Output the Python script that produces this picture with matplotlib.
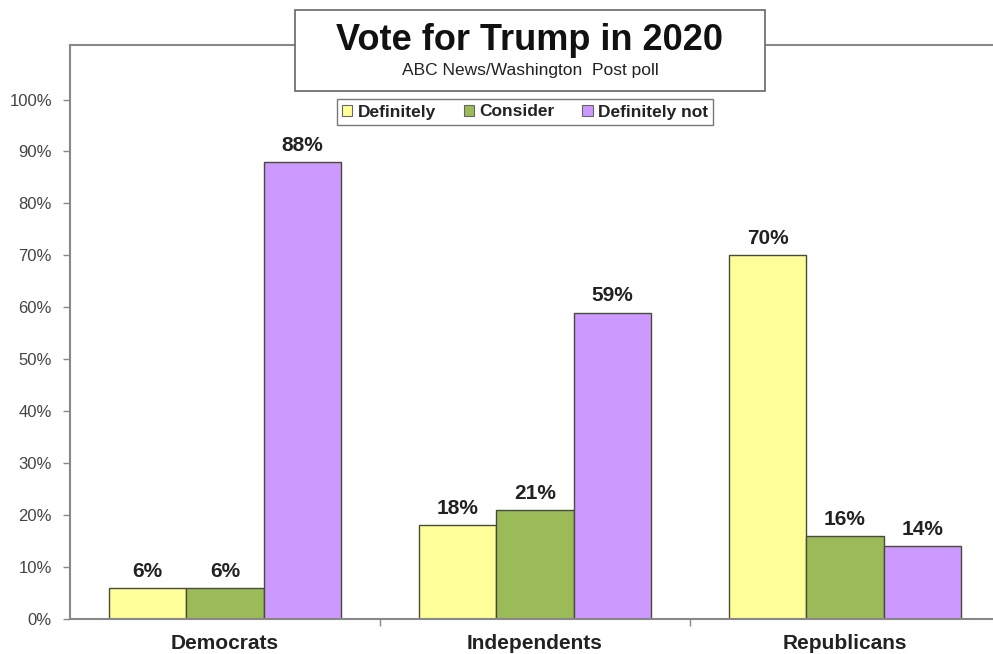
import numpy as np
import matplotlib.pyplot as plt
from matplotlib.patches import Patch

plt.rcParams['font.family'] = ['Liberation Sans', 'DejaVu Sans']

groups = ["Democrats", "Independents", "Republicans"]
series = ["Definitely", "Consider", "Definitely not"]
definitely = [6, 18, 70]
consider = [6, 21, 16]
definitely_not = [88, 59, 14]
colors = ["#FFFF99", "#9BBB59", "#CC99FF"]
yticks = [0, 10, 20, 30, 40, 50, 60, 70, 80, 90, 100]

W, H = 993, 654
fig = plt.figure(figsize=(W / 100, H / 100), dpi=100)
ax = fig.add_axes([70 / W, 35 / H, 930 / W, 574 / H])

x = np.arange(len(groups))
width = 0.25
for i, (vals, c) in enumerate(zip([definitely, consider, definitely_not], colors)):
    pos = x + (i - 1) * width
    ax.bar(pos, vals, width, color=c, edgecolor="#4a4a3a", linewidth=1.0, zorder=2)
    for p, v in zip(pos, vals):
        ax.text(p, v + 1.4, f"{v}%", ha="center", va="bottom", fontsize=15,
                fontweight="bold", color="#222222")

ax.set_xlim(-0.5, 2.5)
ax.set_ylim(0, 110.5)
ax.set_yticks(yticks)
ax.set_yticklabels([f"{t}%" for t in yticks], fontsize=12, color="#444444")
ax.set_xticks([0.5, 1.5])
ax.set_xticklabels([])
ax.tick_params(axis="y", length=5, color="#888888", width=1, pad=8)
ax.tick_params(axis="x", length=5, color="#888888", width=1, direction="out")
for g, xc in zip(groups, x):
    ax.text(xc, -2.8, g, ha="center", va="top", fontsize=15, fontweight="bold",
            color="#222222")

for s in ["left", "bottom", "top"]:
    ax.spines[s].set_color("#888888")
    ax.spines[s].set_linewidth(1.5)
ax.spines["right"].set_visible(False)

# title block
fig.text(529 / W, 1 - 40 / H, "Vote for Trump in 2020", ha="center", va="center",
         fontsize=26, fontweight="bold", color="#111111")
fig.text(530 / W, 1 - 71 / H, "ABC News/Washington  Post poll", ha="center",
         va="center", fontsize=12.5, color="#222222")
box = plt.Rectangle((295 / W, 1 - 91 / H), 470 / W, 81 / H, transform=fig.transFigure,
                    fc="white", ec="#666666", lw=1.2, zorder=5)
fig.patches.append(box)
for t in fig.texts:
    t.set_zorder(6)

handles = [Patch(facecolor=c, edgecolor="#666666", lw=0.8) for c in colors]
leg = fig.legend(handles, series, loc="center", bbox_to_anchor=(525 / W, 1 - 112 / H),
                 ncol=3, frameon=True, fancybox=False, edgecolor="#555555",
                 prop={"weight": "bold", "size": 12.5}, handlelength=0.6,
                 handleheight=0.6, handletextpad=0.3, columnspacing=1.6,
                 borderpad=0.3)
leg.get_frame().set_linewidth(1.0)
for t in leg.get_texts():
    t.set_color("#222222")

fig.savefig("out.png", dpi=100)
